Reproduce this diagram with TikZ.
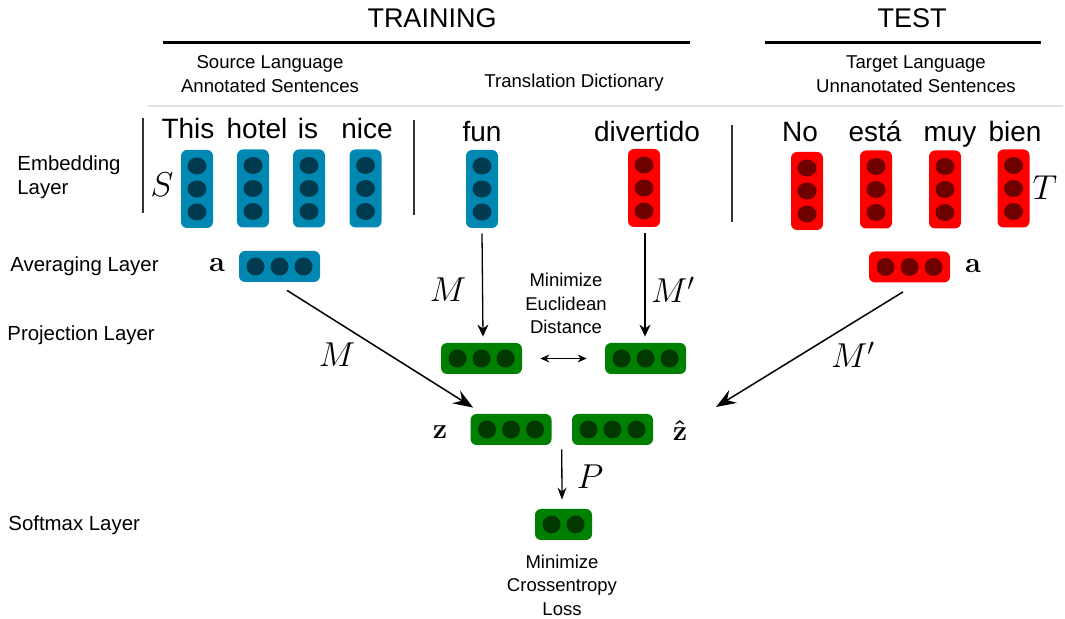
\documentclass[tikz,border=0pt]{standalone}
\usepackage[no-math]{fontspec}
\setmainfont{Liberation Sans}
\usepackage{bm}
\usetikzlibrary{arrows.meta,calc}
\definecolor{eblue}{RGB}{0,136,178}
\definecolor{ebluedot}{RGB}{0,58,78}
\definecolor{ered}{RGB}{255,0,0}
\definecolor{ereddot}{RGB}{110,0,0}
\definecolor{egreen}{RGB}{0,128,0}
\definecolor{egreendot}{RGB}{0,56,0}
\definecolor{sepgray}{RGB}{51,51,51}
\definecolor{rulegray}{RGB}{224,224,224}
\newcommand{\vembed}[5]{%
  \node[vecbox, fill=#4] (#1) at (#2,#3) {};
  \fill[#5] (#1.center) ellipse (4.75pt and 4.25pt);
  \fill[#5] ($(#1.center)+(0,-23)$) ellipse (4.75pt and 4.25pt);
  \fill[#5] ($(#1.center)+(0,23)$) ellipse (4.75pt and 4.25pt);
}
\newcommand{\hembed}[5]{%
  \node[hvecbox, fill=#4] (#1) at (#2,#3) {};
  \fill[#5] (#1.center) circle (4.5pt);
  \fill[#5] ($(#1.center)+(-24,0)$) circle (4.5pt);
  \fill[#5] ($(#1.center)+(24,0)$) circle (4.5pt);
}
\begin{document}
\begin{tikzpicture}[x=0.5pt,y=-0.5pt,
  vecbox/.style={rectangle, rounded corners=3pt, minimum width=16pt, minimum height=39pt, inner sep=0pt, draw=none},
  hvecbox/.style={rectangle, rounded corners=3pt, minimum width=40.5pt, minimum height=15.5pt, inner sep=0pt, draw=none},
  softbox/.style={rectangle, rounded corners=3pt, minimum width=28.5pt, minimum height=15.5pt, inner sep=0pt, draw=none},
  word/.style={font=\fontsize{14}{16}\selectfont, anchor=base, inner sep=0pt},
  head/.style={font=\fontsize{13.5}{16}\selectfont, inner sep=0pt},
  sub/.style={font=\fontsize{9.3}{12}\selectfont, align=center, inner sep=0pt},
  lay/.style={font=\fontsize{10.2}{12}\selectfont, anchor=west, align=left, inner sep=0pt},
  note/.style={font=\fontsize{9.25}{11.75}\selectfont, align=center, inner sep=0pt},
  mathl/.style={font=\fontsize{16.5}{18}\selectfont, inner sep=0pt},
  vecl/.style={font=\fontsize{13.5}{15}\selectfont, inner sep=0pt},
  thinarrow/.style={line width=0.65pt, -{Stealth[length=6pt, width=5.5pt, inset=2pt]}},
  bigarrow/.style={line width=0.75pt, -{Stealth[length=10pt, width=7.5pt, inset=3.5pt]}},
  seprule/.style={line width=0.65pt, draw=sepgray},
  headrule/.style={line width=1.5pt, draw=black}
]
\useasboundingbox (0,0) rectangle (1065,619);

% headers
\node[head] (training) at (432,18) {TRAINING};
\node[head] (test) at (912,18) {TEST};
\coordinate (trL) at (163,43); \coordinate (trR) at (690,43);
\coordinate (teL) at (765,43); \coordinate (teR) at (1041,43);
\draw[headrule] (trL) -- (trR);
\draw[headrule] (teL) -- (teR);
\node[sub] (srchead) at (270,74) {Source Language\\Annotated Sentences};
\node[sub] (dicthead) at (574,83) {Translation Dictionary};
\node[sub] (tgthead) at (916,74) {Target Language\\Unnanotated Sentences};
\coordinate (grL) at (148,106); \coordinate (grR) at (1063,106);
\draw[line width=0.7pt, draw=rulegray] (grL) -- (grR);

% layer labels
\node[lay] (embl) at (17,177) {Embedding\\Layer};
\node[lay] (avgl) at (10,266) {Averaging Layer};
\node[lay] (projl) at (7,335) {Projection Layer};
\node[lay] (softl) at (8,525) {Softmax Layer};

% separators
\coordinate (s1a) at (143,118); \coordinate (s1b) at (143,213);
\coordinate (s2a) at (414,120); \coordinate (s2b) at (414,215);
\coordinate (s3a) at (732,125); \coordinate (s3b) at (732,222);
\draw[seprule] (s1a) -- (s1b);
\draw[seprule] (s2a) -- (s2b);
\draw[seprule] (s3a) -- (s3b);

% words
\node[word] (wThis) at (188,139) {This};
\node[word] (wHotel) at (257,139) {hotel};
\node[word] (wIs) at (308,139) {is};
\node[word] (wNice) at (367,139) {nice};
\node[word] (wFun) at (482,142) {fun};
\node[word] (wDiv) at (647,142) {divertido};
\node[word] (wNo) at (800,142) {No};
\node[word] (wEsta) at (875,142) {está};
\node[word] (wMuy) at (950,142) {muy};
\node[word] (wBien) at (1015,142) {bien};

% embedding vectors
\vembed{e1}{197}{189}{eblue}{ebluedot}
\vembed{e2}{253}{188.5}{eblue}{ebluedot}
\vembed{e3}{309}{188.5}{eblue}{ebluedot}
\vembed{e4}{365.5}{188.5}{eblue}{ebluedot}
\vembed{efun}{482}{189}{eblue}{ebluedot}
\vembed{ediv}{644}{188}{ered}{ereddot}
\vembed{t1}{807}{191}{ered}{ereddot}
\vembed{t2}{876}{189.5}{ered}{ereddot}
\vembed{t3}{945}{189.5}{ered}{ereddot}
\vembed{t4}{1013.5}{188.5}{ered}{ereddot}
\node[mathl] (S) at (162,185) {$S$};
\node[mathl] (T) at (1045,188) {$T$};

% averaging
\hembed{avgS}{279.5}{266.5}{eblue}{ebluedot}
\hembed{avgT}{909.5}{267}{ered}{ereddot}
\node[vecl] (aS) at (217,265) {$\mathbf{a}$};
\node[vecl] (aT) at (973,266) {$\mathbf{a}$};

% projection
\hembed{projL}{481.5}{358.5}{egreen}{egreendot}
\hembed{projR}{645.5}{358.5}{egreen}{egreendot}
\node[note] (eucl) at (566,303.5) {Minimize\\Euclidean\\Distance};
\draw[line width=0.6pt, {Stealth[length=4.5pt, width=4pt, inset=1.5pt]}-{Stealth[length=4.5pt, width=4pt, inset=1.5pt]}]
  ($(projL.east)+(18,0)$) -- ($(projR.west)+(-18,0)$);
\draw[thinarrow] ($(efun.south)+(0,5)$) -- ($(projL.north)+(1.5,-6)$);
\draw[thinarrow] ($(ediv.south)+(1,6)$) -- ($(projR.north)+(-0.5,-6)$);
\node[mathl] (M1) at (448,290) {$M$};
\node[mathl] (M2) at (673,290) {$M'$};

% z vectors
\hembed{z}{511}{429.5}{egreen}{egreendot}
\hembed{zh}{612.5}{429.5}{egreen}{egreendot}
\node[vecl] (zl) at (440,432) {$\mathbf{z}$};
\node[vecl] (zhl) at (680,431) {$\bm{\hat{\mathbf{z}}}$};
\draw[bigarrow] ($(avgS.south)+(7.5,8)$) -- ($(z.north west)+(3,-6)$);
\draw[bigarrow] ($(avgT.south)+(-6.5,9)$) -- ($(zhl)+(36,-24)$);
\node[mathl] (M3) at (337,355) {$M$};
\node[mathl] (M4) at (853,355) {$M'$};

% softmax
\node[softbox, fill=egreen] (soft) at (563.5,524.5) {};
\fill[egreendot] ($(soft.center)+(-12,0)$) circle (4.5pt);
\fill[egreendot] ($(soft.center)+(12,0)$) circle (4.5pt);
\coordinate (zmid) at ($(z.south)!0.5!(zh.south)$);
\draw[line width=0.65pt, -{Stealth[length=6pt, width=4.5pt, inset=2pt]}] ($(zmid)+(0,4)$) -- ($(soft.north)+(-1.5,-9)$);
\node[mathl] (P) at (590,477) {$P$};
\node[note] (xent) at (562,585) {Minimize\\Crossentropy\\Loss};
\end{tikzpicture}
\end{document}
